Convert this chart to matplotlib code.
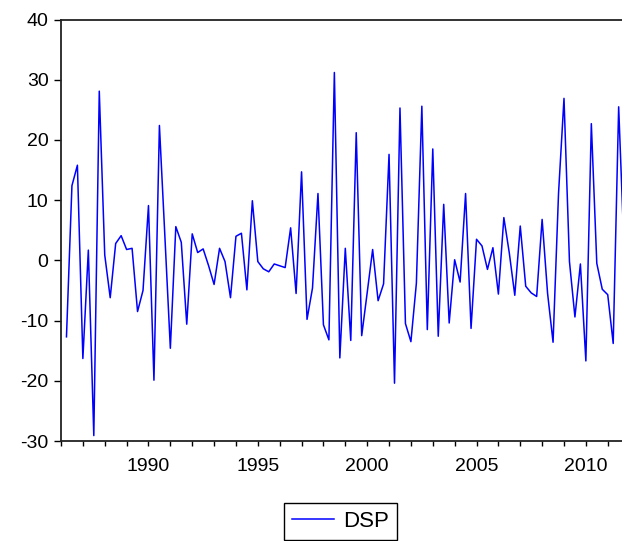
import numpy as np
import matplotlib.pyplot as plt

plt.rcParams['font.family'] = ['Liberation Sans', 'DejaVu Sans']
plt.rcParams['axes.unicode_minus'] = False

# quarterly observations starting 1986Q2
start_year = 1986.25
dsp = [-12.7, 12.4, 15.8, -16.3, 1.7, -29.1, 28.1, 0.9, -6.2, 2.8,
       4.1, 1.8, 2.0, -8.5, -5.0, 9.1, -19.9, 22.4, 4.0, -14.6,
       5.6, 3.0, -10.6, 4.4, 1.3, 1.9, -0.9, -4.0, 2.0, -0.2,
       -6.2, 4.0, 4.5, -4.9, 9.9, -0.2, -1.4, -1.9, -0.6, -0.9,
       -1.2, 5.4, -5.5, 14.7, -9.8, -4.6, 11.1, -10.7, -13.2, 31.2,
       -16.2, 2.0, -13.3, 21.2, -12.5, -5.4, 1.8, -6.7, -3.9, 17.6,
       -20.4, 25.3, -10.5, -13.5, -3.8, 25.6, -11.5, 18.5, -12.6, 9.3,
       -10.4, 0.1, -3.6, 11.1, -11.3, 3.5, 2.4, -1.5, 2.1, -5.6,
       7.1, 1.2, -5.8, 5.7, -4.3, -5.4, -6.0, 6.8, -5.5, -13.6,
       11.1, 26.9, -0.2, -9.4, -0.6, -16.7, 22.7, -0.5, -4.8, -5.7,
       -13.8, 25.5, 1.5]
t = start_year + np.arange(len(dsp)) / 4.0

year_ticks = [1990, 1995, 2000, 2005, 2010]
year_labels = ['1990', '1995', '2000', '2005', '2010']
y_ticks = [-30, -20, -10, 0, 10, 20, 30, 40]
y_labels = ['-30', '-20', '-10', '0', '10', '20', '30', '40']

W, H = 622, 541
fig = plt.figure(figsize=(W / 100, H / 100), dpi=100)
# right edge of the plot lies beyond the picture (cropped like the original)
ax = fig.add_axes([61 / W, (H - 441) / H, 568.6 / W, (441 - 19.5) / H])

line, = ax.plot(t, dsp, color='#0000ff', linewidth=1.1, label='DSP')

ax.set_xlim(1986, 2012)
ax.set_ylim(-30, 40)
ax.set_xticks(year_ticks)
ax.set_xticklabels(year_labels)
ax.set_xticks(np.arange(1986, 2012), minor=True)
ax.set_yticks(y_ticks)
ax.set_yticklabels(y_labels)

for s in ax.spines.values():
    s.set_linewidth(1.3)
    s.set_color('#222222')
ax.spines['right'].set_visible(False)

ax.tick_params(axis='x', which='both', direction='out', length=3.5, width=1,
               labelsize=14, pad=9)
ax.tick_params(axis='y', direction='out', length=5, width=1,
               labelsize=14, pad=4)

leg = fig.legend(handles=[line], loc='lower center',
                 bbox_to_anchor=(340.5 / W, 1.0 / H), fontsize=16,
                 fancybox=False, framealpha=1, edgecolor='black',
                 handlelength=1.9, borderpad=0.35, handletextpad=0.4,
                 borderaxespad=0)
leg.get_frame().set_linewidth(1.0)

fig.savefig('out.png', dpi=100)
